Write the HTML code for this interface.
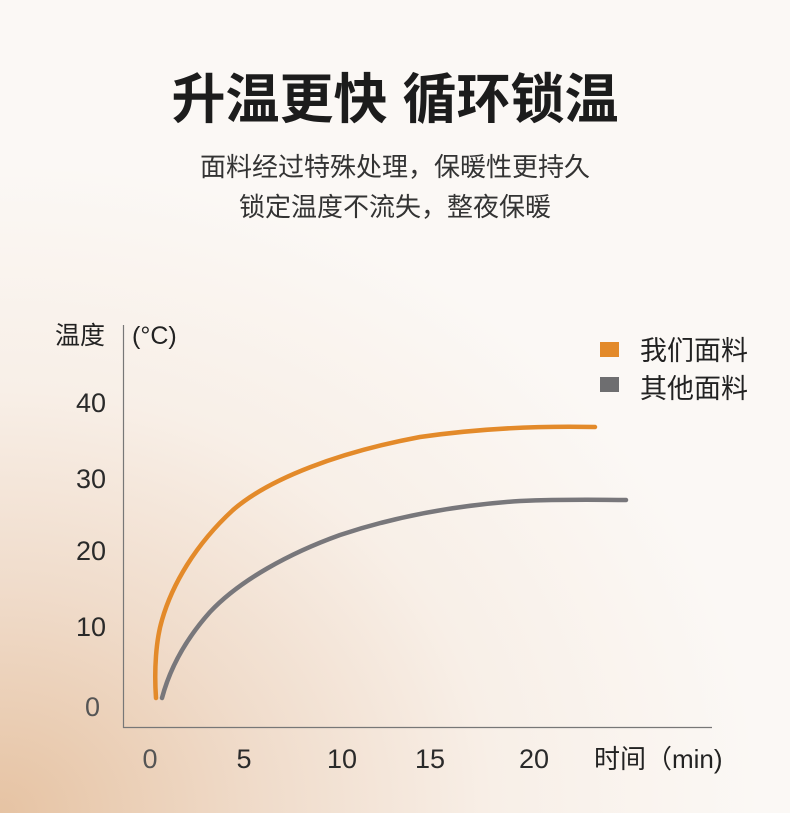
<!DOCTYPE html>
<html><head><meta charset="utf-8"><style>
html,body{margin:0;padding:0}
body{width:790px;height:813px;position:relative;overflow:hidden;font-family:"Liberation Sans","Noto Sans CJK SC",sans-serif;
background:radial-gradient(ellipse 760px 650px at 0px 813px,#e6c3a3 0%,#f0dccb 35%,#f8efe7 65%,#fbf8f5 100%);}
.t{position:absolute;left:0;width:790px;text-align:center;color:#222}
</style></head><body>
<div class="t" style="top:55px;font-size:54px;font-weight:bold;letter-spacing:0px;color:#1c1c1c">升温更快 循环锁温</div>
<div class="t" style="top:147px;font-size:26px;color:#333">面料经过特殊处理，保暖性更持久</div>
<div class="t" style="top:187px;font-size:26px;color:#333">锁定温度不流失，整夜保暖</div>
<svg width="790" height="813" style="position:absolute;left:0;top:0" font-family="Liberation Sans, Noto Sans CJK SC, sans-serif">
<line x1="123.5" y1="325" x2="123.5" y2="728" stroke="#777" stroke-width="1.2"/>
<line x1="123" y1="727.5" x2="712" y2="727.5" stroke="#777" stroke-width="1.2"/>
<g font-size="27" fill="#2a2a2a" text-anchor="end">
<text x="106" y="412">40</text><text x="106" y="488">30</text><text x="106" y="560">20</text><text x="106" y="636">10</text><text x="100" y="716" fill="#555">0</text>
</g>
<text x="55" y="344" font-size="25" fill="#222">温度</text>
<text x="132" y="344" font-size="25" fill="#222">(°C)</text>
<g font-size="27" fill="#2a2a2a" text-anchor="middle">
<text x="150" y="768" fill="#555">0</text><text x="244" y="768">5</text><text x="342" y="768">10</text><text x="430" y="768">15</text><text x="534" y="768">20</text>
</g>
<text x="594" y="768" font-size="26" fill="#222">时间（min)</text>
<rect x="600" y="342" width="19" height="15" fill="#e38a2a"/>
<rect x="600" y="377" width="19" height="15" fill="#6e6e70"/>
<text x="640" y="360" font-size="27" fill="#222">我们面料</text>
<text x="640" y="398" font-size="27" fill="#222">其他面料</text>
<path d="M156,698 C154,670 156,640 162,620 C172,585 195,545 233,510 C270,478 340,452 420,437 C490,427 550,426 595,427" fill="none" stroke="#e38a2a" stroke-width="4.5" stroke-linecap="round"/>
<path d="M162,698 C170,668 185,640 210,612 C240,580 290,553 340,535 C400,515 460,505 520,501 C570,499 600,500 626,500" fill="none" stroke="#78777b" stroke-width="4.5" stroke-linecap="round"/>
</svg>
</body></html>
